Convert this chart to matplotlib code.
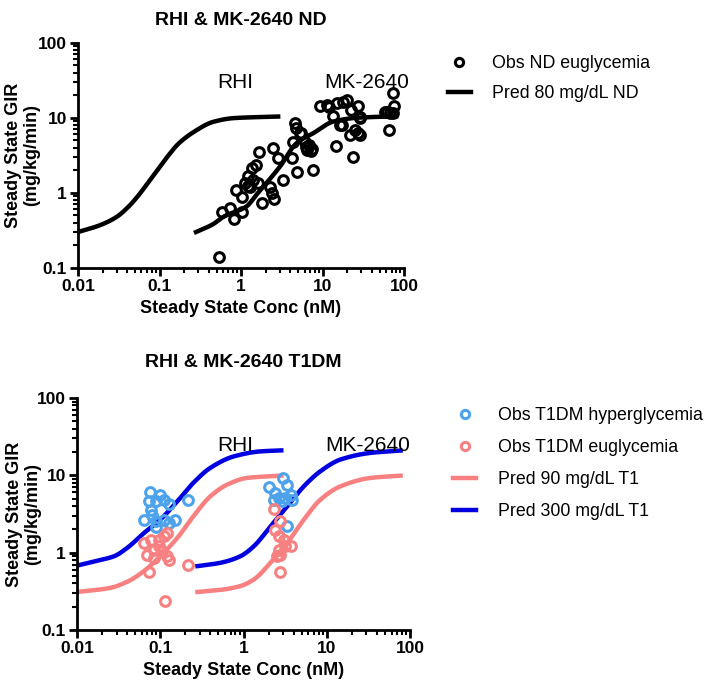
import numpy as np
import matplotlib
matplotlib.use("Agg")
import matplotlib.pyplot as plt
from matplotlib.ticker import LogLocator, FixedLocator, FixedFormatter, NullFormatter

plt.rcParams['font.family'] = ['Liberation Sans', 'DejaVu Sans']

# ---- top panel: normal (ND) subjects ----
nd_obs_x = [0.54, 0.59, 0.73, 0.83, 1.02, 0.87, 1.02, 1.12, 1.23, 1.35, 1.53, 1.29, 1.63, 1.68,
            1.79, 2.27, 2.38, 2.56, 2.45, 2.82, 3.3, 4.2, 4.3, 4.6, 4.7, 4.8, 5.3, 6.1, 6.5, 6.8,
            7.2, 7.5, 6.3, 7.7, 9.3, 11.4, 14.9, 13.5, 14.6, 17.2, 20.0, 21.7, 23.9, 25.0, 27.0,
            28.5, 28.5, 58.5, 66.0, 67.0, 73.0, 75.0, 74.0, 1.4, 1.2, 5.5, 16.4, 22.6, 27.4, 28.8,
            61.5, 18.0, 12.0]
nd_obs_y = [0.14, 0.55, 0.62, 0.45, 0.55, 1.1, 0.87, 1.37, 1.69, 2.14, 2.36, 1.19, 1.35, 3.55,
            0.73, 1.19, 1.0, 0.83, 3.94, 2.9, 1.49, 2.9, 4.83, 8.5, 7.3, 1.92, 6.25, 4.83, 3.7, 4.3,
            3.6, 3.8, 4.1, 2.03, 14.2, 14.9, 15.7, 10.6, 4.2, 8.07, 17.4, 5.9, 3.05, 6.9, 14.2,
            10.4, 5.9, 12.1, 6.9, 11.6, 11.6, 14.2, 21.4, 1.5, 1.25, 6.25, 8.1, 12.8, 6.25, 10.0,
            12.1, 16.5, 14.0]

nd_rhi_x = [0.01, 0.0186, 0.030, 0.042, 0.055, 0.07, 0.10, 0.13, 0.17, 0.27, 0.45, 0.8, 1.5, 2.85]
nd_rhi_y = [0.30, 0.37, 0.48, 0.66, 0.92, 1.3, 2.2, 3.2, 4.5, 6.6, 8.8, 9.9, 10.2, 10.4]
nd_mk_x = [0.28, 0.45, 0.61, 1.17, 1.55, 1.88, 3.0, 4.8, 7.7, 13.5, 26.0, 80.0]
nd_mk_y = [0.30, 0.38, 0.48, 0.66, 0.95, 1.21, 2.24, 4.6, 6.25, 8.9, 10.0, 10.5]

# ---- bottom panel: T1DM subjects ----
hyper_x = [0.075, 0.1, 0.073, 0.088, 0.11, 0.127, 0.214, 0.077, 0.080, 0.064, 0.088, 0.11,
           0.127, 0.149, 0.090, 2.01, 3.0, 3.35, 2.42, 2.65, 3.19, 3.67, 3.84, 2.31, 2.91, 3.35]
hyper_y = [6.0, 5.6, 4.6, 4.6, 4.85, 4.2, 4.85, 3.6, 3.1, 2.67, 2.54, 2.67, 2.42, 2.67, 2.15,
           7.0, 9.25, 7.6, 5.9, 5.1, 5.1, 5.6, 4.85, 4.85, 4.6, 2.24]
eug_x = [0.064, 0.077, 0.096, 0.11, 0.12, 0.096, 0.084, 0.07, 0.084, 0.106, 0.12, 0.127, 0.073,
         0.214, 0.114, 2.31, 2.78, 2.36, 2.65, 3.04, 3.67, 3.19, 2.65, 2.78, 2.54, 2.73]
eug_y = [1.33, 1.47, 1.47, 1.63, 1.8, 1.21, 1.09, 0.94, 0.85, 1.04, 0.9, 0.81, 0.57, 0.70, 0.24,
         3.71, 2.54, 1.99, 1.63, 1.47, 1.23, 1.23, 1.09, 0.94, 0.9, 0.57]

t1_rhi300_x = [0.01, 0.016, 0.028, 0.040, 0.064, 0.1, 0.16, 0.25, 0.40, 0.77, 1.6, 2.84]
t1_rhi300_y = [0.68, 0.77, 0.90, 1.15, 1.8, 2.67, 4.6, 8.0, 12.5, 17.6, 20.4, 21.0]
t1_rhi90_x = [0.01, 0.025, 0.040, 0.064, 0.1, 0.16, 0.25, 0.40, 0.64, 1.1, 2.84]
t1_rhi90_y = [0.31, 0.35, 0.42, 0.58, 0.90, 1.55, 2.95, 5.35, 7.6, 9.25, 9.9]
t1_mk300_x = [0.28, 0.53, 0.92, 1.33, 2.11, 3.35, 5.3, 8.4, 14.6, 33.5, 77.0]
t1_mk300_y = [0.67, 0.74, 0.90, 1.21, 2.19, 3.97, 7.2, 11.3, 16.0, 19.5, 20.9]
t1_mk90_x = [0.28, 0.53, 0.92, 1.33, 2.11, 3.35, 5.3, 8.4, 14.6, 33.5, 77.0]
t1_mk90_y = [0.31, 0.33, 0.37, 0.45, 0.74, 1.33, 2.67, 4.85, 7.2, 9.25, 9.9]

black = 'black'
light_blue = '#4da2ec'
pink = '#f88080'
dark_blue = '#0000e0'


def smooth(xs, ys, n=300):
    # monotone cubic (pchip) through the read-off points, in log-log space
    lx = np.log10(xs)
    ly = np.log10(ys)
    h = np.diff(lx)
    d = np.diff(ly) / h
    m = np.zeros_like(lx)
    m[0], m[-1] = d[0], d[-1]
    for k in range(1, len(lx) - 1):
        if d[k - 1] * d[k] > 0:
            w1 = 2 * h[k] + h[k - 1]
            w2 = h[k] + 2 * h[k - 1]
            m[k] = (w1 + w2) / (w1 / d[k - 1] + w2 / d[k])
    gx = np.linspace(lx[0], lx[-1], n)
    idx = np.clip(np.searchsorted(lx, gx) - 1, 0, len(lx) - 2)
    t = (gx - lx[idx]) / h[idx]
    h00 = 2 * t**3 - 3 * t**2 + 1
    h10 = t**3 - 2 * t**2 + t
    h01 = -2 * t**3 + 3 * t**2
    h11 = t**3 - t**2
    gy = h00 * ly[idx] + h10 * h[idx] * m[idx] + h01 * ly[idx + 1] + h11 * h[idx] * m[idx + 1]
    return 10 ** gx, 10 ** gy


def style_axes(ax, title, pad, label_x):
    ax.set_xscale('log')
    ax.set_yscale('log')
    ax.set_xlim(0.01, 100)
    ax.set_ylim(0.1, 100)
    for s in ['top', 'right']:
        ax.spines[s].set_visible(False)
    for s in ['left', 'bottom']:
        ax.spines[s].set_linewidth(2)
    ax.xaxis.set_major_locator(FixedLocator([0.01, 0.1, 1, 10, 100]))
    ax.xaxis.set_major_formatter(FixedFormatter(['0.01', '0.1', '1', '10', '100']))
    ax.yaxis.set_major_locator(FixedLocator([0.1, 1, 10, 100]))
    ax.yaxis.set_major_formatter(FixedFormatter(['0.1', '1', '10', '100']))
    ax.xaxis.set_minor_locator(LogLocator(base=10, subs=np.arange(2, 10)))
    ax.yaxis.set_minor_locator(LogLocator(base=10, subs=np.arange(2, 10)))
    ax.xaxis.set_minor_formatter(NullFormatter())
    ax.yaxis.set_minor_formatter(NullFormatter())
    ax.tick_params(which='major', direction='out', length=6, width=2, labelsize=12.5, pad=2)
    ax.tick_params(which='minor', direction='out', length=3.5, width=1.5)
    for lab in ax.get_xticklabels() + ax.get_yticklabels():
        lab.set_fontweight('bold')
    ax.set_xlabel('Steady State Conc (nM)', fontsize=13, fontweight='bold', labelpad=4)
    ax.set_ylabel('Steady State GIR\n(mg/kg/min)', fontsize=13, fontweight='bold',
                  linespacing=1.1)
    ax.yaxis.set_label_coords(label_x, 0.5)
    ax.set_title(title, fontsize=14, fontweight='bold', pad=pad)


fig = plt.figure(figsize=(7.09, 6.85), dpi=100)

# top panel
ax1 = fig.add_axes([0.110, 0.609, 0.460, 0.3285])
ax1.plot(nd_obs_x, nd_obs_y, 'o', ms=7, mfc='none', mec=black, mew=2.2,
         label='Obs ND euglycemia', zorder=3)
x, y = smooth(nd_rhi_x, nd_rhi_y)
ax1.plot(x, y, color=black, lw=3.2, label='Pred 80 mg/dL ND')
x, y = smooth(nd_mk_x, nd_mk_y)
ax1.plot(x, y, color=black, lw=3.2)
ax1.text(0.84, 30, 'RHI', fontsize=15, ha='center', va='center')
ax1.text(35, 30, 'MK-2640', fontsize=15, ha='center', va='center')
style_axes(ax1, 'RHI & MK-2640 ND', 13, -0.115)
ax1.legend(loc='upper left', bbox_to_anchor=(1.085, 1.015), frameon=False, fontsize=12.8,
           handlelength=1.3, handletextpad=1.2, labelspacing=0.72, markerscale=0.85)

# bottom panel
ax2 = fig.add_axes([0.1086, 0.0803, 0.4697, 0.3387])
ax2.plot(hyper_x, hyper_y, 'o', ms=7, mfc='none', mec=light_blue, mew=2.2,
         label='Obs T1DM hyperglycemia', zorder=3)
ax2.plot(eug_x, eug_y, 'o', ms=7, mfc='none', mec=pink, mew=2.2,
         label='Obs T1DM euglycemia', zorder=3)
x, y = smooth(t1_rhi90_x, t1_rhi90_y)
ax2.plot(x, y, color=pink, lw=3.2, label='Pred 90 mg/dL T1')
x, y = smooth(t1_rhi300_x, t1_rhi300_y)
ax2.plot(x, y, color=dark_blue, lw=3.2, label='Pred 300 mg/dL T1')
x, y = smooth(t1_mk90_x, t1_mk90_y)
ax2.plot(x, y, color=pink, lw=3.2)
x, y = smooth(t1_mk300_x, t1_mk300_y)
ax2.plot(x, y, color=dark_blue, lw=3.2)
ax2.text(0.8, 24, 'RHI', fontsize=15, ha='center', va='center')
ax2.text(31, 24, 'MK-2640', fontsize=15, ha='center', va='center')
style_axes(ax2, 'RHI & MK-2640 T1DM', 22, -0.108)
ax2.legend(loc='upper left', bbox_to_anchor=(1.082, 1.03), frameon=False, fontsize=12.8,
           handlelength=1.3, handletextpad=1.2, labelspacing=0.85, markerscale=0.85)

fig.savefig('out.png', dpi=100)
